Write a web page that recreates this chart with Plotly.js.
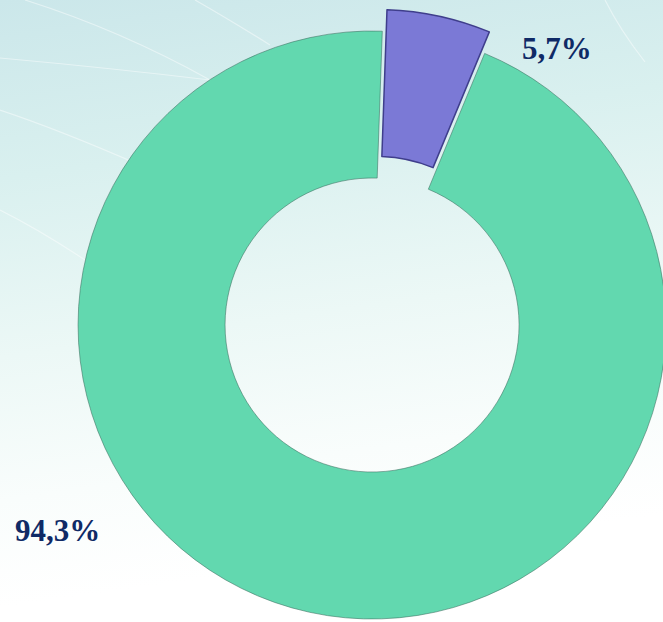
<!DOCTYPE html>
<html>
<head>
<meta charset="utf-8">
<script src="https://cdn.plot.ly/plotly-3.0.1.min.js"></script>
<style>
  html, body { margin: 0; padding: 0; width: 663px; height: 622px; overflow: hidden; }
  #wrap {
    position: relative; width: 663px; height: 622px; overflow: hidden;
    background: linear-gradient(172deg, #cbe7ea 0%, #d9f0ef 25%, #ecf8f6 50%, #f9fdfc 70%, #ffffff 85%);
  }
  #chart { position: absolute; left: 0; top: 0; }
</style>
</head>
<body>
<div id="wrap"><div id="chart"></div></div>
<script>
// ---- data ----
var categories = ["Part A", "Part B"];
var values = [5.7, 94.3];
var colors = ["#7b79d6", "#62d8af"];
var labelTexts = values.map(function (v) { return v.toFixed(1).replace(".", ",") + "%"; });

var W = 700, H = 650;

function px(x) { return x / W; }
function py(y) { return 1 - y / H; }

var trace = {
  type: "pie",
  labels: categories,
  values: values,
  sort: false,
  direction: "clockwise",
  rotation: 2,
  hole: 0.5,
  pull: [0.075, 0],
  textinfo: "none",
  hoverinfo: "label+percent",
  marker: {
    colors: colors,
    line: { color: ["#3f3e8c", "rgba(60,110,95,0.55)"], width: [1.5, 1] }
  },
  domain: { x: [0.08, 0.983], y: [0, 1] },
  showlegend: false
};

function swirl(d) {
  return { type: "path", xref: "paper", yref: "paper", path: d, layer: "below",
           line: { color: "rgba(255,255,255,0.45)", width: 1.2 } };
}
function P(pts) {
  var s = "M " + px(pts[0][0]) + "," + py(pts[0][1]);
  s += " Q " + px(pts[1][0]) + "," + py(pts[1][1]) + " " + px(pts[2][0]) + "," + py(pts[2][1]);
  return s;
}

var layout = {
  width: W,
  height: H,
  margin: { l: 0, r: 0, t: 0, b: 0 },
  paper_bgcolor: "rgba(0,0,0,0)",
  plot_bgcolor: "rgba(0,0,0,0)",
  shapes: [
    swirl(P([[25, 0], [120, 30], [210, 80]])),
    swirl(P([[0, 58], [110, 68], [210, 80]])),
    swirl(P([[0, 110], [60, 130], [140, 165]])),
    swirl(P([[195, 0], [230, 20], [270, 45]])),
    swirl(P([[605, 0], [620, 30], [645, 62]])),
    swirl(P([[0, 210], [40, 230], [85, 260]]))
  ],
  annotations: [
    { text: labelTexts[0], xref: "paper", yref: "paper", x: px(557), y: py(48),
      xanchor: "center", yanchor: "middle", showarrow: false,
      font: { family: "Liberation Serif, Times New Roman, serif", size: 31, color: "#0f2a66", weight: "bold" } },
    { text: labelTexts[1], xref: "paper", yref: "paper", x: px(58), y: py(530),
      xanchor: "center", yanchor: "middle", showarrow: false,
      font: { family: "Liberation Serif, Times New Roman, serif", size: 31, color: "#0f2a66", weight: "bold" } }
  ]
};

Plotly.newPlot("chart", [trace], layout, { displayModeBar: false, staticPlot: true });
</script>
</body>
</html>
